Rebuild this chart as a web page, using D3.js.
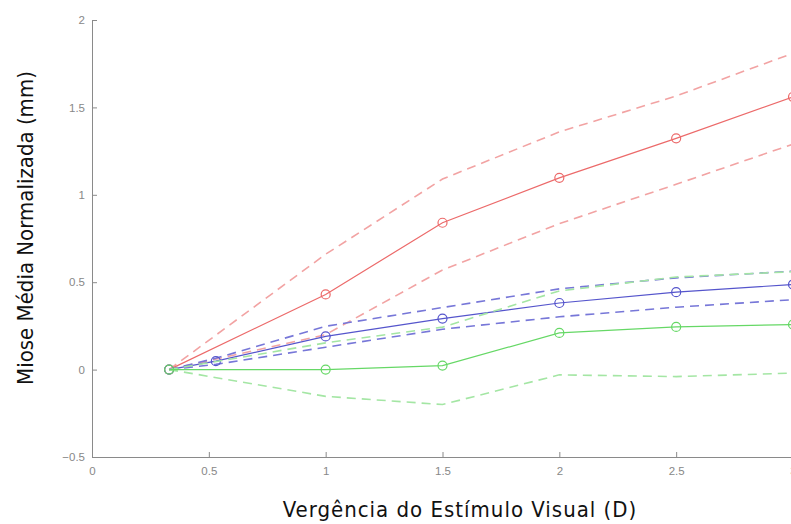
<!DOCTYPE html>
<html>
<head>
<meta charset="utf-8">
<script src="https://cdn.jsdelivr.net/npm/d3@7"></script>
<style>
body { margin: 0; background: #fff; }
svg { display: block; }
</style>
</head>
<body>
<svg width="791" height="524"></svg>
<script>
var svg = d3.select("svg");

// vergence (D)
var xMain = [0.33, 1, 1.5, 2, 2.5, 3];
var xBlue = [0.33, 0.53, 1, 1.5, 2, 2.5, 3];

// mean miosis and +/- bands
var redMean = [0, 0.43, 0.84, 1.097, 1.323, 1.56];
var redUp   = [0, 0.66, 1.09, 1.36, 1.565, 1.81];
var redLo   = [0, 0.2, 0.57, 0.835, 1.06, 1.29];

var blueMean = [0, 0.048, 0.19, 0.292, 0.381, 0.443, 0.487];
var blueUp   = [0, 0.065, 0.248, 0.355, 0.462, 0.525, 0.563];
var blueLo   = [0, 0.03, 0.128, 0.231, 0.302, 0.357, 0.4];

var greenMean = [0, 0, 0.023, 0.21, 0.244, 0.258];
var greenUp   = [0, 0.153, 0.243, 0.45, 0.53, 0.56];
var greenLo   = [0, -0.153, -0.2, -0.03, -0.04, -0.02];

var xTicks = [0, 0.5, 1, 1.5, 2, 2.5, 3];
var yTicks = [-0.5, 0, 0.5, 1, 1.5, 2];

var x = d3.scaleLinear().domain([0, 3]).range([92, 793]);
var y = d3.scaleLinear().domain([-0.5, 2]).range([457, 20]);

var line = d3.line()
    .x(function (d) { return x(d[0]); })
    .y(function (d) { return y(d[1]); });

var pairs = function (xs, ys) {
    return xs.map(function (v, i) { return [v, ys[i]]; });
};

var series = [
    { xs: xMain, mean: redMean, up: redUp, lo: redLo, solid: "#ec6a6a", dash: "#f2a3a3" },
    { xs: xBlue, mean: blueMean, up: blueUp, lo: blueLo, solid: "#5555cc", dash: "#7777d8" },
    { xs: xMain, mean: greenMean, up: greenUp, lo: greenLo, solid: "#66d866", dash: "#a4e6a4" }
];

// axes (matlab style, ticks inside)
var gx = svg.append("g").attr("transform", "translate(0," + y(-0.5) + ")")
    .call(d3.axisBottom(x).tickValues(xTicks).tickSize(-5).tickPadding(10)
        .tickFormat(d3.format("")));
var gy = svg.append("g").attr("transform", "translate(" + x(0) + ",0)")
    .call(d3.axisLeft(y).tickValues(yTicks).tickSize(-5).tickPadding(7)
        .tickFormat(d3.format("")));

[gx, gy].forEach(function (g) {
    g.select(".domain").attr("stroke", "#8a8a8a");
    g.selectAll(".tick line").attr("stroke", "#8a8a8a");
    g.selectAll(".tick text")
        .attr("fill", "#888")
        .attr("font-family", "Liberation Sans, Arial, sans-serif")
        .attr("font-size", 11.5);
});

series.forEach(function (s) {
    [s.up, s.lo].forEach(function (band) {
        svg.append("path")
            .attr("d", line(pairs(s.xs, band)))
            .attr("fill", "none")
            .attr("stroke", s.dash)
            .attr("stroke-width", 1.6)
            .attr("stroke-dasharray", "9,6");
    });
    svg.append("path")
        .attr("d", line(pairs(s.xs, s.mean)))
        .attr("fill", "none")
        .attr("stroke", s.solid)
        .attr("stroke-width", 1.2);
    svg.selectAll(null).data(pairs(s.xs, s.mean)).enter()
        .append("circle")
        .attr("cx", function (d) { return x(d[0]); })
        .attr("cy", function (d) { return y(d[1]); })
        .attr("r", 4.5)
        .attr("fill", "none")
        .attr("stroke", s.solid)
        .attr("stroke-width", 1.2);
});

svg.append("text")
    .text("Vergência do Estímulo Visual (D)")
    .attr("font-family", "DejaVu Sans Condensed, DejaVu Sans, sans-serif")
    .attr("font-size", 22)
    .attr("letter-spacing", 1)
    .attr("fill", "#111")
    .attr("text-anchor", "middle")
    .attr("x", 460)
    .attr("y", 517);

svg.append("text")
    .text("Miose Média Normalizada (mm)")
    .attr("font-family", "DejaVu Sans Condensed, DejaVu Sans, sans-serif")
    .attr("font-size", 22)
    .attr("fill", "#111")
    .attr("text-anchor", "middle")
    .attr("transform", "translate(33,228) rotate(-90)");
</script>
</body>
</html>
